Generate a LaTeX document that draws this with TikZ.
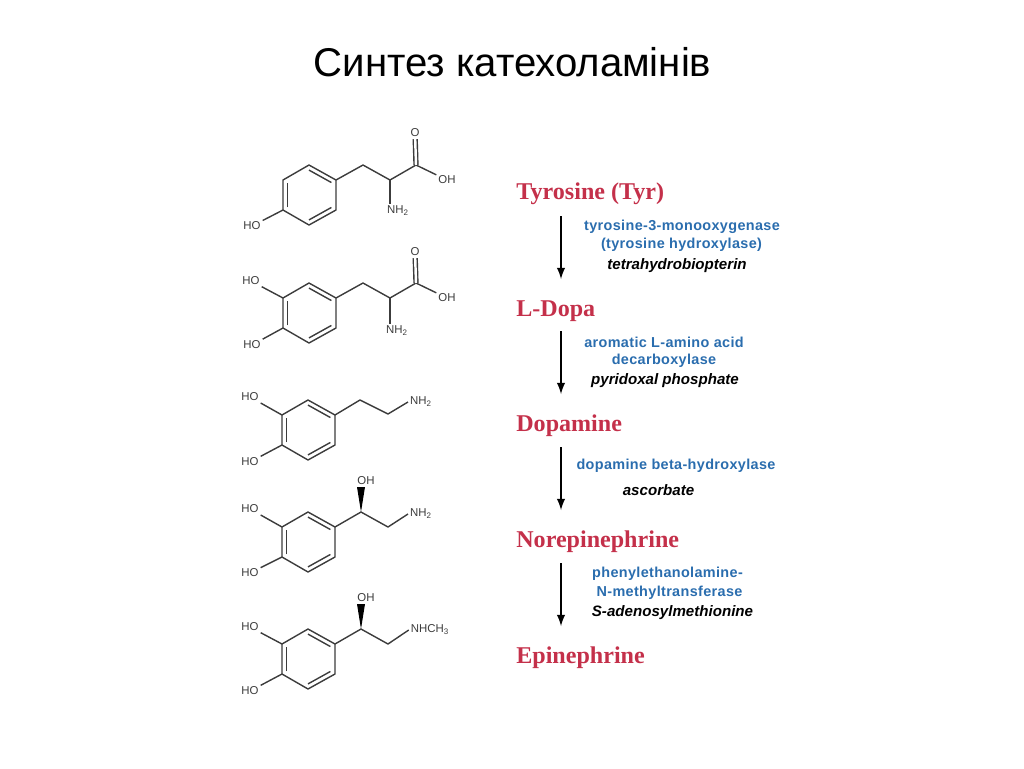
\documentclass[tikz,border=0pt]{standalone}
\usepackage{fontspec}
\setmainfont{Liberation Sans}
\newfontfamily\namefont{Liberation Serif}
\newfontfamily\enzfont[LetterSpace=2.5]{Liberation Sans}
\usetikzlibrary{calc}

\definecolor{NameRed}{HTML}{C4304A}
\definecolor{EnzBlue}{HTML}{2A6DAE}
\definecolor{BondGrey}{HTML}{3C3C3C}

\tikzstyle{Title} = [font=\fontsize{22.85}{26}\selectfont, text=black]
\tikzstyle{Name} = [anchor=west, inner sep=0pt,
                     font=\namefont\bfseries\fontsize{13.7}{16}\selectfont, text=NameRed]
\tikzstyle{Enz} = [inner sep=0pt, font=\enzfont\bfseries\fontsize{8.2}{10}\selectfont, text=EnzBlue]
\tikzstyle{Cof} = [inner sep=0pt, font=\bfseries\itshape\fontsize{8.6}{10}\selectfont, text=black]
\tikzstyle{Atom} = [inner sep=1pt, font=\fontsize{6.5}{8}\selectfont, text=BondGrey]
\tikzstyle{Bond} = [draw=BondGrey, line width=0.8pt, line join=round]
\tikzstyle{Dbl} = [Bond, double, double distance=1.4pt]
\tikzstyle{Step} = [->, >=latex, line width=1.2pt]

% ring with its three inner lines, corners are #1a ... #1f clockwise from the top
\newcommand{\molring}[3]{
    \coordinate (#1a) at (#2, #3);
    \coordinate (#1b) at (#2+27, #3+15);
    \coordinate (#1c) at (#2+27, #3+45);
    \coordinate (#1d) at (#2, #3+60);
    \coordinate (#1e) at (#2-26, #3+45);
    \coordinate (#1f) at (#2-26, #3+15);
    \coordinate (#1m) at (#2, #3+30);
    \draw [Bond] (#1a) -- (#1b) -- (#1c) -- (#1d) -- (#1e) -- (#1f) -- cycle;
    \draw [Bond] ($(#1a)!0.17!(#1m)$) -- ($(#1b)!0.17!(#1m)$);
    \draw [Bond] ($(#1c)!0.17!(#1m)$) -- ($(#1d)!0.17!(#1m)$);
    \draw [Bond] ($(#1e)!0.17!(#1m)$) -- ($(#1f)!0.17!(#1m)$);
}

\begin{document}
\begin{tikzpicture}[x=0.02cm, y=-0.02cm]
    \useasboundingbox (0, 0) rectangle (1024, 768);

    \node (title) at (512.5, 62) [Title] {Синтез катехоламінів};

    % Tyrosine structure
    \molring{tyr}{309}{165}
    \coordinate (tyrc1) at (363, 165);
    \coordinate (tyrc2) at (390, 180);
    \coordinate (tyrc3) at (416, 165);
    \node (tyrho) at (252, 226) [Atom] {HO};
    \node (tyro) at (415, 133) [Atom] {O};
    \node (tyroh) at (447, 180) [Atom] {OH};
    \node (tyrnh) at (398, 211) [Atom] {NH\textsubscript{2}};
    \draw [Bond] (tyre) -- (tyrho);
    \draw [Bond] (tyrb) -- (tyrc1) -- (tyrc2) -- (tyrc3) -- (tyroh);
    \draw [Bond] (tyrc2) -- (tyrc2 |- tyrnh.north);
    \draw [Dbl] (tyrc3) -- (tyro);

    % L-Dopa structure
    \molring{dopa}{309}{283}
    \coordinate (dopac1) at (363, 283);
    \coordinate (dopac2) at (390, 298);
    \coordinate (dopac3) at (416, 283);
    \node (dopaho) at (251, 281) [Atom] {HO};
    \node (dopahob) at (252, 345) [Atom] {HO};
    \node (dopao) at (415, 252) [Atom] {O};
    \node (dopaoh) at (447, 298) [Atom] {OH};
    \node (dopanh) at (397, 331) [Atom] {NH\textsubscript{2}};
    \draw [Bond] (dopaf) -- (dopaho);
    \draw [Bond] (dopae) -- (dopahob);
    \draw [Bond] (dopab) -- (dopac1) -- (dopac2) -- (dopac3) -- (dopaoh);
    \draw [Bond] (dopac2) -- (dopac2 |- dopanh.north);
    \draw [Dbl] (dopac3) -- (dopao);

    % Dopamine structure
    \molring{dop}{308}{400}
    \coordinate (dopc1) at (360, 400);
    \coordinate (dopc2) at (388, 414);
    \node (dopho) at (250, 397) [Atom] {HO};
    \node (dophob) at (250, 462) [Atom] {HO};
    \node (dopnh) at (421, 402) [Atom] {NH\textsubscript{2}};
    \draw [Bond] (dopf) -- (dopho);
    \draw [Bond] (dope) -- (dophob);
    \draw [Bond] (dopb) -- (dopc1) -- (dopc2) -- (dopnh.west);

    % Norepinephrine structure
    \molring{nor}{308}{512}
    \coordinate (norc1) at (361, 512);
    \coordinate (norc2) at (388, 527);
    \node (norho) at (250, 509) [Atom] {HO};
    \node (norhob) at (250, 573) [Atom] {HO};
    \node (noroh) at (366, 481) [Atom] {OH};
    \node (nornh) at (421, 514) [Atom] {NH\textsubscript{2}};
    \draw [Bond] (norf) -- (norho);
    \draw [Bond] (nore) -- (norhob);
    \draw [Bond] (norb) -- (norc1) -- (norc2) -- (nornh.west);
    \fill [black] (norc1) -- ++(-4, -25) -- ++(8, 0) -- cycle;

    % Epinephrine structure
    \molring{epi}{308}{629}
    \coordinate (epic1) at (361, 629);
    \coordinate (epic2) at (388, 644);
    \node (epiho) at (250, 627) [Atom] {HO};
    \node (epihob) at (250, 691) [Atom] {HO};
    \node (epioh) at (366, 598) [Atom] {OH};
    \node (epinh) at (430, 630) [Atom] {NHCH\textsubscript{3}};
    \draw [Bond] (epif) -- (epiho);
    \draw [Bond] (epie) -- (epihob);
    \draw [Bond] (epib) -- (epic1) -- (epic2) -- (epinh.west);
    \fill [black] (epic1) -- ++(-4, -25) -- ++(8, 0) -- cycle;

    % Compound names
    \node (tyrname) at (516, 194) [Name] {Tyrosine (Tyr)};
    \node (dopaname) at (516, 311) [Name] {L-Dopa};
    \node (dopname) at (516, 426) [Name] {Dopamine};
    \node (norname) at (516, 542) [Name] {Norepinephrine};
    \node (epiname) at (516, 658) [Name] {Epinephrine};

    % Enzymes and cofactors
    \node (enza) at (682, 227) [Enz] {tyrosine-3-monooxygenase};
    \node (enzb) at (681.5, 245) [Enz] {(tyrosine hydroxylase)};
    \node (cofa) at (677, 266) [Cof] {tetrahydrobiopterin};
    \node (enzc) at (664, 342) [Enz] {aromatic L-amino acid};
    \node (enzd) at (664, 361) [Enz] {decarboxylase};
    \node (cofb) at (665, 381) [Cof] {pyridoxal phosphate};
    \node (enze) at (676, 466) [Enz] {dopamine beta-hydroxylase};
    \node (cofc) at (658.5, 490) [Cof] {ascorbate};
    \node (enzf) at (667.5, 574) [Enz] {phenylethanolamine-};
    \node (enzg) at (669.5, 593) [Enz] {N-methyltransferase};
    \node (cofd) at (672.5, 613) [Cof] {S-adenosylmethionine};

    % Arrows
    \coordinate (sa) at (561, 216);
    \coordinate (sb) at (561, 331);
    \coordinate (sc) at (561, 447);
    \coordinate (sd) at (561, 563);
    \coordinate (ea) at (561, 279);
    \coordinate (eb) at (561, 394);
    \coordinate (ec) at (561, 510);
    \coordinate (ed) at (561, 626);
    \draw [Step] (sa) -- (ea);
    \draw [Step] (sb) -- (eb);
    \draw [Step] (sc) -- (ec);
    \draw [Step] (sd) -- (ed);

\end{tikzpicture}
\end{document}
